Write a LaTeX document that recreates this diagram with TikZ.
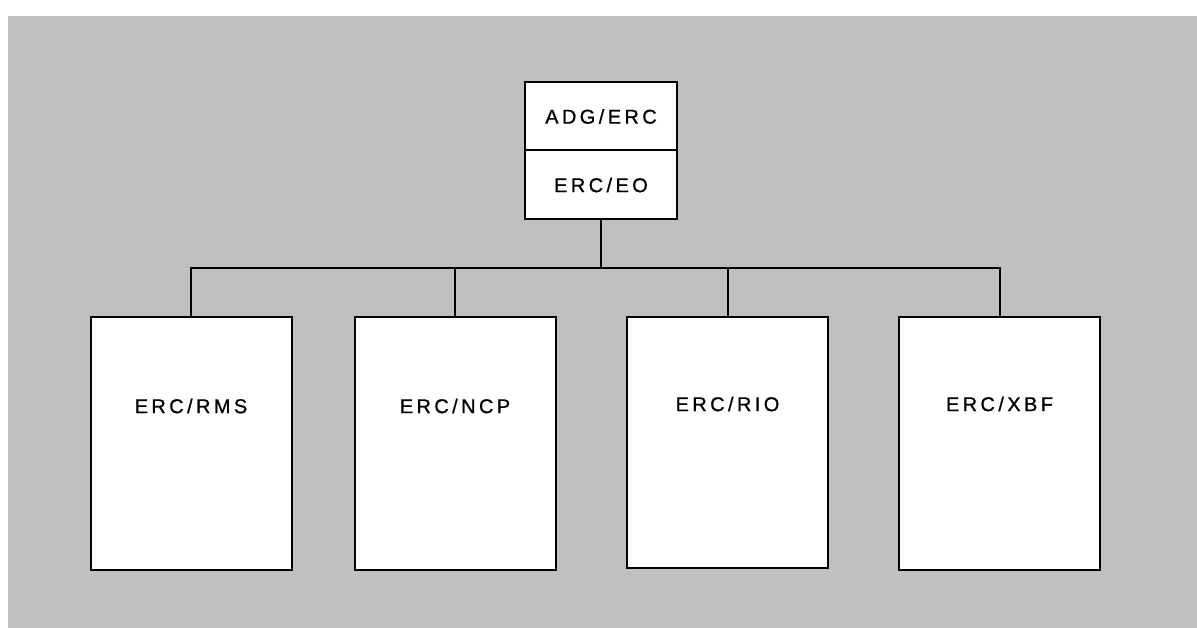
\documentclass[tikz,border=0pt]{standalone}
\usepackage{fontspec}
\setmainfont{Liberation Sans}[LetterSpace=17, FakeBold=0.9]
\usetikzlibrary{calc}
\definecolor{panelgray}{HTML}{C0C0C0}
\tikzset{
  unitbox/.style={draw=black, fill=white, line width=2pt, inner sep=0pt,
                  font=\fontsize{20}{22}\selectfont},
  headbox/.style={unitbox, minimum width=152pt, minimum height=69pt},
  deptbox/.style={unitbox, minimum width=201pt, minimum height=253pt},
  tag/.style={inner sep=0pt, font=\fontsize{20}{22}\selectfont},
  wire/.style={line width=2pt, line join=miter}
}
\begin{document}
\begin{tikzpicture}[x=1pt, y=-1pt]
  \useasboundingbox (0,0) rectangle (1197,628);
  \fill[panelgray] (8,16) rectangle (1197,628);

  % head office
  \node[headbox] (adg) at (601,116.5) {ADG/ERC};
  \node[headbox] (eo)  at (601,185)   {ERC/EO};

  % departments
  \node[deptbox] (rms) at (191,443.5) {};
  \node[deptbox] (ncp) at (455,443.5) {};
  \node[deptbox, minimum height=251pt] (rio) at (727.5,442.5) {};
  \node[deptbox] (xbf) at (999.5,443.5) {};

  \node[tag] at ($(rms.north)+(0,90)$) {ERC/RMS};
  \node[tag] at ($(ncp.north)+(0,90)$) {ERC/NCP};
  \node[tag] at ($(rio.north)+(0,88)$) {ERC/RIO};
  \node[tag] at ($(xbf.north)+(0,88)$) {ERC/XBF};

  % reporting lines
  \coordinate (bus) at (601,268);
  \draw[wire] (eo.south) -- (bus);
  \draw[wire] (rms.north) |- (bus) -| (xbf.north);
  \draw[wire] (ncp.north) -- (ncp.north |- bus);
  \draw[wire] (rio.north) -- (rio.north |- bus);
\end{tikzpicture}
\end{document}
